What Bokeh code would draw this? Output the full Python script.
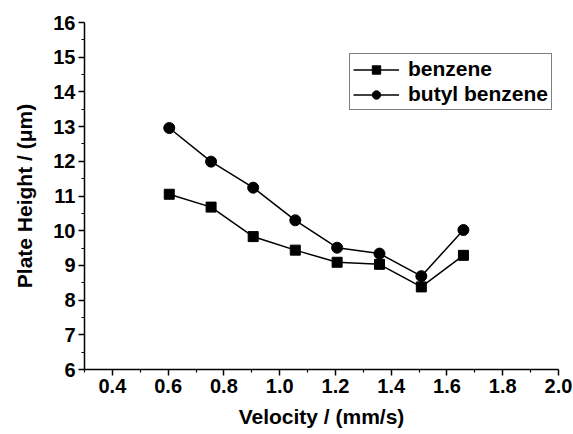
from bokeh.plotting import figure
from bokeh.models import FixedTicker, PrintfTickFormatter, Legend, LegendItem
from bokeh.embed import file_html
from bokeh.resources import INLINE

velocity = [0.604, 0.754, 0.905, 1.056, 1.206, 1.358, 1.508, 1.659]
benzene = [11.05, 10.68, 9.83, 9.44, 9.09, 9.03, 8.38, 9.29]
butyl_benzene = [12.96, 11.99, 11.24, 10.30, 9.51, 9.34, 8.69, 10.02]

x_major = [0.4, 0.6, 0.8, 1.0, 1.2, 1.4, 1.6, 1.8, 2.0]
x_minor = [0.3, 0.5, 0.7, 0.9, 1.1, 1.3, 1.5, 1.7, 1.9]
y_major = [6, 7, 8, 9, 10, 11, 12, 13, 14, 15, 16]
y_minor = [6.5, 7.5, 8.5, 9.5, 10.5, 11.5, 12.5, 13.5, 14.5, 15.5]

FONT = "Liberation Sans"

p = figure(width=573, height=434, x_range=(0.3, 2.0), y_range=(6, 16),
           output_backend="svg", toolbar_location=None,
           min_border_left=84, min_border_right=15, min_border_top=22,
           min_border_bottom=65)
p.outline_line_color = None
p.xgrid.visible = False
p.ygrid.visible = False
p.background_fill_color = "white"
p.border_fill_color = "white"

for ax in (p.xaxis[0], p.yaxis[0]):
    ax.axis_line_color = "black"
    ax.axis_line_width = 1.5
    ax.major_tick_line_color = "black"
    ax.minor_tick_line_color = "black"
    ax.major_tick_line_width = 1.5
    ax.minor_tick_line_width = 1.2
    ax.major_tick_out = 6
    ax.major_tick_in = 0
    ax.minor_tick_out = 3
    ax.minor_tick_in = 0
    ax.major_label_text_font = FONT
    ax.major_label_text_font_style = "bold"
    ax.major_label_text_font_size = "20px"
    ax.major_label_text_color = "black"
    ax.axis_label_text_font = FONT
    ax.axis_label_text_font_style = "bold"
    ax.axis_label_text_font_size = "21px"
    ax.axis_label_text_color = "black"

p.xaxis.ticker = FixedTicker(ticks=x_major, minor_ticks=x_minor)
p.yaxis.ticker = FixedTicker(ticks=y_major, minor_ticks=y_minor)
p.xaxis.formatter = PrintfTickFormatter(format="%.1f")
p.yaxis.formatter = PrintfTickFormatter(format="%d")
p.xaxis.axis_label = "Velocity / (mm/s)"
p.yaxis.axis_label = "Plate Height / (μm)"
p.xaxis.major_label_standoff = 3
p.xaxis.axis_label_standoff = 9
p.yaxis.major_label_standoff = 3
p.yaxis.axis_label_standoff = 14

l1 = p.line(velocity, benzene, line_color="black", line_width=1.5)
m1 = p.scatter(velocity, benzene, marker="square", size=10, fill_color="black", line_color="black")
l2 = p.line(velocity, butyl_benzene, line_color="black", line_width=1.5)
m2 = p.scatter(velocity, butyl_benzene, marker="circle", size=11, fill_color="black", line_color="black")

legend = Legend(items=[LegendItem(label="benzene", renderers=[l1, m1]),
                       LegendItem(label="butyl benzene", renderers=[l2, m2])],
                location=(265, 259))
legend.border_line_color = "black"
legend.border_line_width = 1.2
legend.label_text_font = FONT
legend.label_text_font_style = "bold"
legend.label_text_font_size = "21px"
legend.label_text_color = "black"
legend.glyph_width = 46
legend.glyph_height = 21
legend.label_height = 21
legend.spacing = 1
legend.padding = 3
legend.margin = 0
legend.label_standoff = 9
legend.background_fill_alpha = 1.0
p.add_layout(legend, "center")

open("out.html", "w").write(file_html(p, INLINE))
